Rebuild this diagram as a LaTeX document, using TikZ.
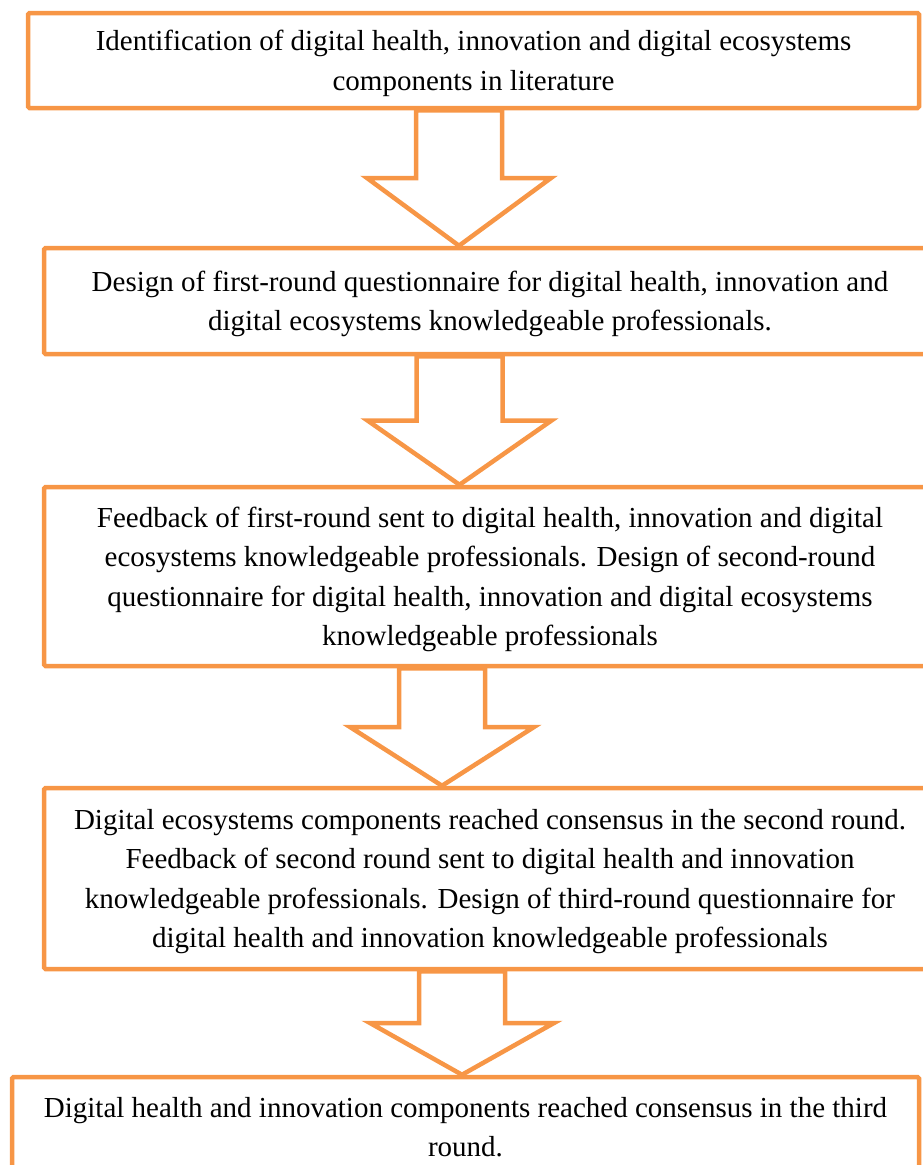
\documentclass[tikz,border=0pt]{standalone}
\usepackage{fontspec}
\setmainfont{Liberation Serif}
\usetikzlibrary{positioning, calc}
\definecolor{accentorange}{RGB}{247,150,70}

\begin{document}
\begin{tikzpicture}[x=1pt, y=1pt,
        stage/.style={draw=accentorange, line width=4.5pt, rounded corners=1.5pt, align=center, inner sep=0pt, text depth=0pt, font=\fontsize{29}{39.5}\selectfont},
        flow/.style={draw=accentorange, line width=4.5pt, line join=miter}
    ]
        \useasboundingbox (0,0) rectangle (922,-1165);
        \newcommand{\blockArr}[3]{% from, to, x of the shaft middle
            \draw[flow] let \p1=(#1.south), \p2=(#2.north), \n1={0.5*(\y1+\y2)} in
                ({#3-43},\y1) -- ({#3-43},\n1) -- ({#3-92},\n1) -- (#3,\y2)
                -- ({#3+92},\n1) -- ({#3+43},\n1) -- ({#3+43},\y1) -- cycle;
        }

        \node[stage, minimum width=891, minimum height=95] (ident) at (473.5,-60.5)
            {Identification of digital health, innovation and digital ecosystems\\ components in literature};
        \node[stage, minimum width=892, minimum height=106] (design1) at (490,-301)
            {Design of first-round questionnaire for digital health, innovation and\\ digital ecosystems knowledgeable professionals.};
        \node[stage, minimum width=892, minimum height=179] (feedback1) at (490,-576.5)
            {Feedback of first-round sent to digital health, innovation and digital\\ ecosystems knowledgeable professionals. Design of second-round\\ questionnaire for digital health, innovation and digital ecosystems\\ knowledgeable professionals};
        \node[stage, minimum width=892, minimum height=181] (consensus2) at (490,-878.5)
            {Digital ecosystems components reached consensus in the second round.\\ Feedback of second round sent to digital health and innovation\\ knowledgeable professionals. Design of third-round questionnaire for\\ digital health and innovation knowledgeable professionals};
        \node[stage, minimum width=907, minimum height=100] (consensus3) at (465.5,-1127)
            {Digital health and innovation components reached consensus in the third\\ round.};

        \blockArr{ident}{design1}{459}
        \blockArr{design1}{feedback1}{459.5}
        \blockArr{feedback1}{consensus2}{442}
        \blockArr{consensus2}{consensus3}{462}
    \end{tikzpicture}
\end{document}
